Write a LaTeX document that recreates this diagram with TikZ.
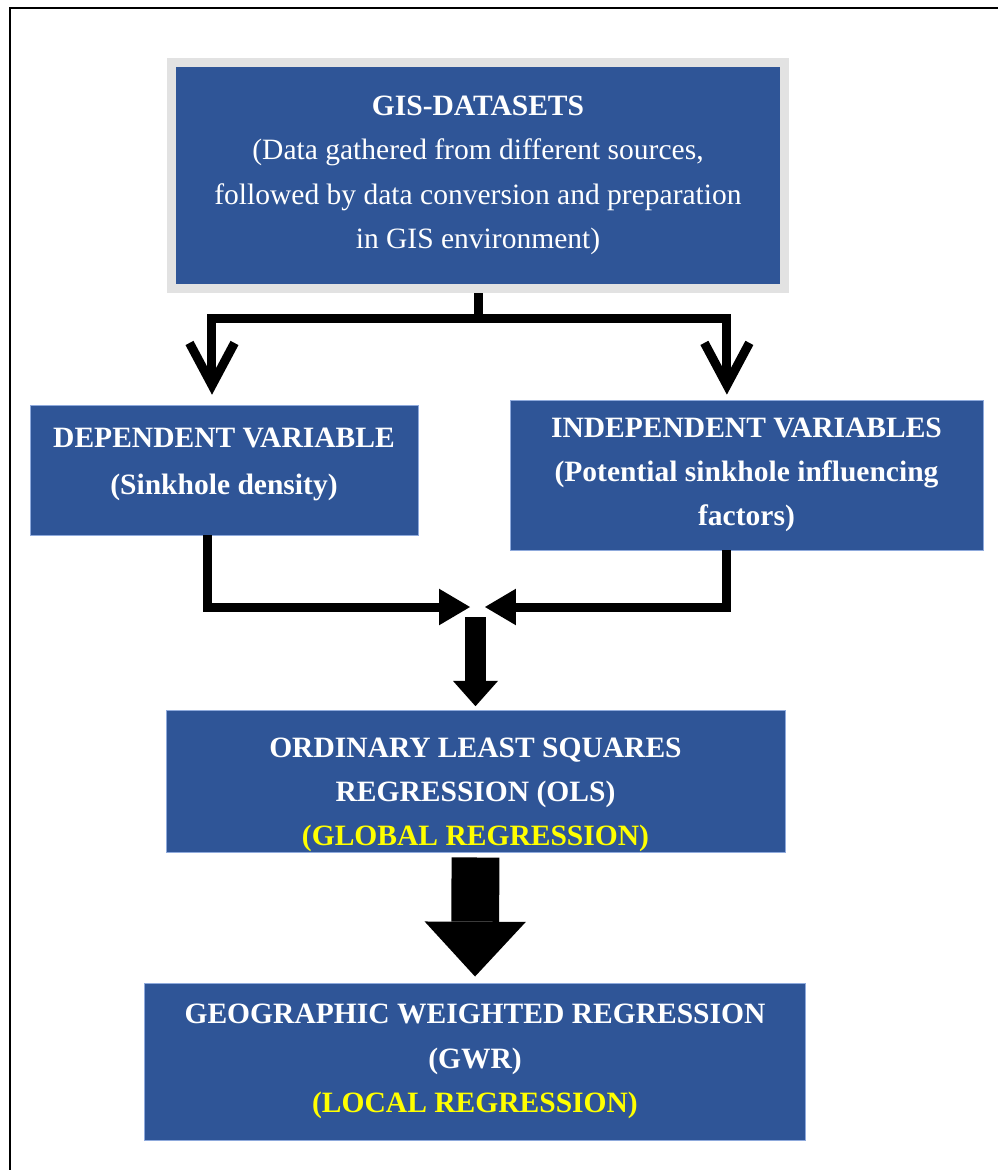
\documentclass[tikz,border=0pt]{standalone}
\usepackage{fontspec}
\setmainfont{Liberation Serif}
\usetikzlibrary{arrows.meta}

\definecolor{boxblue}{RGB}{47,85,151}
\definecolor{rimblue}{RGB}{143,170,220}
\definecolor{rimgray}{RGB}{226,226,226}
\definecolor{hiyellow}{RGB}{255,255,0}

\begin{document}
\begin{tikzpicture}[x=0.025cm, y=-0.025cm,
        stage/.style={rectangle, fill=boxblue, draw=rimblue, line width=0.6pt, text=white, align=center, inner sep=0pt, font=\fontsize{21}{31.5}\selectfont\bfseries},
        fork/.style={line width=6.4pt, line join=miter, -{Straight Barb[length=30pt,width=32pt]}},
        merge/.style={line width=6.4pt, line join=miter, -{Triangle[length=22pt,width=26pt,line width=0pt]}},
        push/.style={line width=15.6pt, -{Triangle[length=18pt,width=32pt,line width=0pt]}},
        bigpush/.style={line width=34pt, -{Triangle[length=39pt,width=72pt,line width=0pt]}}]
        \useasboundingbox (0,0) rectangle (998,1170);
        \draw[line width=2pt] (998,8) -- (10,8) -- (10,1170);

        \node[stage, draw=rimgray, line width=6.4pt, minimum width=15.325cm, minimum height=5.65cm, font=\fontsize{21}{31.5}\selectfont] (gis) at (478, 175.5) {\textbf{GIS-DATASETS}\\(Data gathered from different sources,\\followed by data conversion and preparation\\in GIS environment)};
        \node[stage, minimum width=9.7cm, minimum height=3.25cm] (dep) at (224, 470) {DEPENDENT VARIABLE\\[2pt](Sinkhole density)\rule[-13pt]{0pt}{1pt}};
        \node[stage, minimum width=11.825cm, minimum height=3.75cm] (indep) at (746.5, 475) {INDEPENDENT VARIABLES\\(Potential sinkhole influencing\\factors)};
        \node[stage, minimum width=15.475cm, minimum height=3.525cm] (ols) at (475.5, 781.5) {\rule{0pt}{33pt}ORDINARY LEAST SQUARES\\REGRESSION (OLS)\\\textcolor{hiyellow}{(GLOBAL REGRESSION)}};
        \node[stage, minimum width=16.5cm, minimum height=3.925cm] (gwr) at (475, 1061.5) {GEOGRAPHIC WEIGHTED REGRESSION\\(GWR)\\\textcolor{hiyellow}{(LOCAL REGRESSION)}};

        \coordinate (split) at (478, 318);
        \coordinate (meetl) at (470, 607);
        \coordinate (meetr) at (485, 607);
        \coordinate (meet) at (475.5, 617);

        \draw[fork, shorten >=7pt] (gis.south) -- (split) -| ([xshift=-0.3cm]dep.north);
        \draw[fork, shorten >=3.5pt] (split) -| ([xshift=-0.49cm]indep.north);
        \draw[merge] ([xshift=-0.4cm]dep.south) |- (meetl);
        \draw[merge] ([xshift=-0.49cm]indep.south) |- (meetr);
        \draw[push, shorten >=3pt] (meet) -- (ols.north);
        \draw[bigpush, shorten <=3.5pt, shorten >=4.3pt] (ols.south) -- (gwr.north);
\end{tikzpicture}
\end{document}
